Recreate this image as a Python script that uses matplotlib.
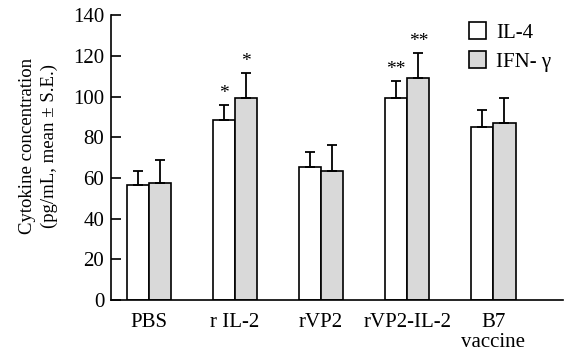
import numpy as np
import matplotlib
matplotlib.use("Agg")
import matplotlib.pyplot as plt

plt.rcParams['font.family'] = ['Liberation Serif', 'DejaVu Serif']

# data
groups = ["PBS", "r IL-2", "rVP2", "rVP2-IL-2", "B7\nvaccine"]
il4 = [56.5, 88.7, 65.5, 99.1, 85.1]
il4_se = [7.0, 6.9, 7.3, 8.3, 8.2]
ifn = [57.3, 99.1, 63.5, 108.9, 87.1]
ifn_se = [11.3, 12.5, 12.6, 12.3, 12.0]
il4_marks = ["", "*", "", "**", ""]
ifn_marks = ["", "*", "", "**", ""]

fig = plt.figure(figsize=(5.64, 3.51), dpi=100)
ax = fig.add_axes([0.197, 0.145, 0.801, 0.812])

x = np.arange(len(groups))
w = 0.26
err_kw = dict(ecolor='black', elinewidth=1.3, capsize=3.3, capthick=1.3)

ax.bar(x - w / 2, il4, w, yerr=[np.zeros(len(il4)), il4_se], color='white',
       edgecolor='black', linewidth=1.2, error_kw=err_kw, label='IL-4')
ax.bar(x + w / 2, ifn, w, yerr=[np.zeros(len(ifn)), ifn_se], color='#d9d9d9',
       edgecolor='black', linewidth=1.2, error_kw=err_kw, label='IFN- γ')

# significance marks above the error bars
for i in range(len(groups)):
    if il4_marks[i]:
        ax.text(x[i] - w / 2, il4[i] + il4_se[i] + 1.5, il4_marks[i],
                ha='center', va='bottom', fontsize=14)
    if ifn_marks[i]:
        ax.text(x[i] + w / 2, ifn[i] + ifn_se[i] + 1.5, ifn_marks[i],
                ha='center', va='bottom', fontsize=14)

ax.set_xlim(-0.44, 4.81)
ax.set_ylim(0, 140)
ax.set_yticks(np.arange(0, 141, 20))
ax.set_xticks(x)
ax.set_xticklabels(groups, fontsize=15, linespacing=1.1)
ax.tick_params(axis='x', length=0, pad=9)
ax.tick_params(axis='y', direction='in', length=7, width=1.2, labelsize=15, pad=5)

ax.spines['top'].set_visible(False)
ax.spines['right'].set_visible(False)
ax.spines['left'].set_linewidth(1.2)
ax.spines['bottom'].set_linewidth(1.2)

ax.set_ylabel("Cytokine concentration\n(pg/mL, mean ± S.E.)", fontsize=13.5,
              linespacing=1.35)
ax.yaxis.set_label_coords(-0.118, 0.54)

ax.legend(loc='upper right', bbox_to_anchor=(1.015, 1.04), frameon=False,
          fontsize=15, handlelength=0.85, handleheight=0.85,
          handletextpad=0.45, labelspacing=0.4)

fig.savefig("out.png", dpi=100)
